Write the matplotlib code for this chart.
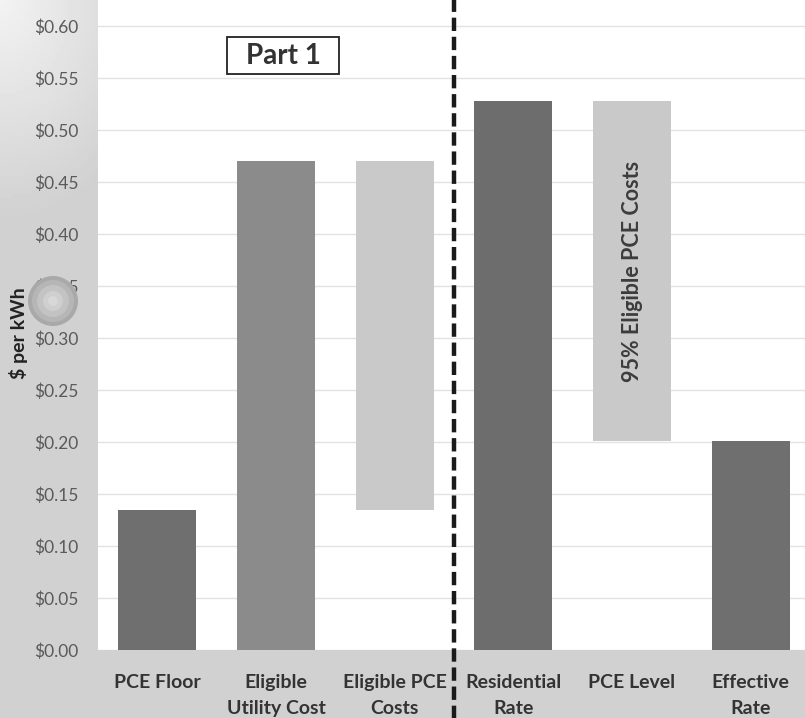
"""
Stacked/floating bar chart of PCE rate components ($ per kWh), greyscale.
"""
import numpy as np
import matplotlib.pyplot as plt
from matplotlib.patches import Circle, Rectangle

#===========================================
# chart data
categories = ['PCE Floor', 'Eligible\nUtility Cost', 'Eligible PCE\nCosts',
              'Residential\nRate', 'PCE Level', 'Effective\nRate']
bar_bottom = [0.0, 0.0, 0.135, 0.0, 0.201, 0.0]
bar_top    = [0.135, 0.470, 0.470, 0.528, 0.528, 0.201]
bar_colors = ['#6f6f6f', '#8b8b8b', '#c9c9c9', '#6d6d6d', '#c9c9c9', '#6f6f6f']
yticks     = [0.0, 0.05, 0.10, 0.15, 0.20, 0.25, 0.30, 0.35, 0.40, 0.45, 0.50, 0.55, 0.60]

plt.rcParams['font.family'] = ['Lato', 'DejaVu Sans']

W, H = 805, 718
fig = plt.figure(figsize=(W/100, H/100), dpi=100)
fig.patch.set_facecolor('#d3d3d3')

# soft background gradient (lighter at the top-left)
bg = fig.add_axes([0, 0, 1, 1], zorder=-10)
yy, xx = np.mgrid[0:1:200j, 0:1:200j]
shade = 0.82 + 0.13*np.clip(1 - np.sqrt((xx/0.2)**2 + (yy/0.3)**2), 0, 1)
bg.imshow(shade, cmap='gray', vmin=0, vmax=1, extent=[0, 1, 0, 1], aspect='auto')
bg.axis('off')

# plot area (right edge runs a little past the picture, as in the original)
ax = fig.add_axes([98/W, 68/H, 712/W, 650/H])
ax.set_facecolor('white')

x = np.arange(len(categories))
heights = np.array(bar_top) - np.array(bar_bottom)
ax.bar(x, heights, bottom=bar_bottom, width=0.66, color=bar_colors, zorder=3)

ax.set_xlim(-0.5, len(categories) - 0.5)
ax.set_ylim(0, 0.625)
ax.set_yticks(yticks)
ax.set_yticklabels(['$%.2f' % v for v in yticks], fontsize=12.5, color='#5a5a5a')
ax.set_xticks(x)
ax.set_xticklabels(categories, fontsize=14, fontweight='bold', color='#333333',
                   linespacing=1.65)
ax.tick_params(axis='y', length=0, pad=14)
ax.tick_params(axis='x', length=0, pad=17)
ax.grid(axis='y', color='#e2e2e2', linewidth=1, zorder=0)
for s in ax.spines.values():
    s.set_visible(False)
ax.set_ylabel('$ per kWh', fontsize=14, fontweight='bold', color='#222222')
ax.yaxis.set_label_coords(-0.098, 0.488)

# Part 1 label
ax.add_patch(Rectangle((0.59, 0.554), 0.937, 0.035, facecolor='white',
                       edgecolor='#222222', lw=1.3, zorder=5))
ax.text(1.06, 0.5715, 'Part 1', ha='center', va='center', fontsize=20,
        fontweight='bold', color='#333333', zorder=6)

# text inside the floating bar
ax.text(4, 0.364, '95% Eligible PCE Costs', rotation=90, ha='center', va='center',
        fontsize=15.5, fontweight='bold', color='#3c3c3c', zorder=5)

# dashed divider between the two parts
ax.plot([2.5, 2.5], [-0.066, 0.63], color='#1a1a1a', linestyle=(0, (3, 1.3)),
        linewidth=3.2, clip_on=False, zorder=6)

# round blemish over the axis label
for r, c in [(25, '#a9a9a9'), (21, '#b6b6b6'), (16, '#c3c3c3'), (10, '#cfcfcf'), (5, '#d8d8d8')]:
    fig.patches.append(Circle((53, H - 301), r, transform=None, facecolor=c,
                              edgecolor='none', zorder=20))

fig.savefig('out.png', dpi=100, facecolor=fig.get_facecolor())
